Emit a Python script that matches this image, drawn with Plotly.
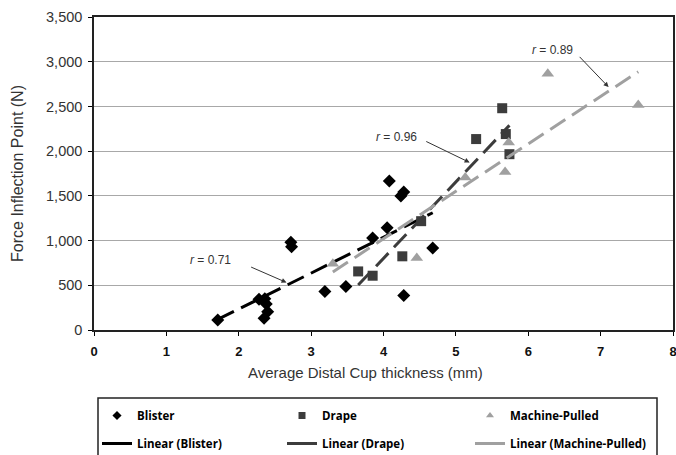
import numpy as np
import plotly.graph_objects as go

# ---- data ----
blister_x = [1.71, 2.28, 2.36, 2.38, 2.40, 2.35, 2.72, 2.73, 3.19, 3.48, 3.85, 4.05, 4.08, 4.24, 4.28, 4.28, 4.68]
blister_y = [112, 345, 350, 290, 205, 130, 980, 930, 431, 487, 1030, 1143, 1666, 1498, 1543, 386, 918]

drape_x = [3.65, 3.85, 4.26, 4.52, 5.28, 5.64, 5.69, 5.74]
drape_y = [655, 607, 824, 1217, 2135, 2480, 2191, 1966]

machine_x = [3.30, 4.46, 5.13, 5.68, 5.73, 6.27, 7.52]
machine_y = [740, 805, 1704, 1768, 2097, 2865, 2517]

x_ticks = [0, 1, 2, 3, 4, 5, 6, 7, 8]
y_ticks = [0, 500, 1000, 1500, 2000, 2500, 3000, 3500]

r_labels = ["0.71", "0.96", "0.89"]

x_title = "Average Distal Cup thickness (mm)"
y_title = "Force Inflection Point (N)"

FONT = "Liberation Sans, Arial, sans-serif"
LEGEND_FONT = "Open Sans, sans-serif"

series = [
    ("Blister", blister_x, blister_y, "diamond", 10, "#000000", "#000000"),
    ("Drape", drape_x, drape_y, "square", 10, "#3c3c3c", "#3c3c3c"),
    ("Machine-Pulled", machine_x, machine_y, "triangle-up", 11, "#a0a0a0", "#a0a0a0"),
]

# legend positions (left edge px)
leg_left = [97, 282, 470]
PLOT_L, PLOT_W, PLOT_B, PLOT_H = 94, 579, 330, 313
ROW1_TOP, ROW2_TOP = 401, 429

fig = go.Figure()

legends = {}
for i, (name, xs, ys, sym, size, mcol, lcol) in enumerate(series):
    fig.add_trace(go.Scatter(
        x=xs, y=ys, mode="markers", name=name, showlegend=False,
        marker=dict(symbol=sym, size=size, color=mcol),
    ))
    slope, intercept = np.polyfit(xs, ys, 1)
    lx = np.array([min(xs), max(xs)])
    fig.add_trace(go.Scatter(
        x=lx, y=slope * lx + intercept, mode="lines", name=f"Linear ({name})",
        showlegend=False,
        line=dict(color=lcol, width=3, dash="18px,8px"),
    ))

leg_common = dict(orientation="v", xref="paper", yref="paper", xanchor="left", yanchor="top",
                  bgcolor="rgba(0,0,0,0)", borderwidth=0,
                  font=dict(family=LEGEND_FONT, size=11.5, color="#000000", weight="bold"),
                  itemwidth=30)

k = 1
for i, (name, xs, ys, sym, size, mcol, lcol) in enumerate(series):
    lid = "legend" if k == 1 else f"legend{k}"
    fig.add_trace(go.Scatter(x=[None], y=[None], mode="markers", name=name, legend=lid,
                             marker=dict(symbol=sym, size=7, color=mcol)))
    legends[lid] = dict(x=(leg_left[i] - PLOT_L) / PLOT_W,
                        y=-(ROW1_TOP - PLOT_B) / PLOT_H, **leg_common)
    k += 1
for i, (name, xs, ys, sym, size, mcol, lcol) in enumerate(series):
    lid = f"legend{k}"
    fig.add_trace(go.Scatter(x=[None], y=[None], mode="lines", name=f"Linear ({name})", legend=lid,
                             line=dict(color=lcol, width=3)))
    legends[lid] = dict(x=(leg_left[i] - PLOT_L) / PLOT_W,
                        y=-(ROW2_TOP - PLOT_B) / PLOT_H, **leg_common)
    k += 1

# r annotations (text + arrow)
txt_pos = [(1.61, 787), (4.18, 2157), (6.33, 3127)]
arrow_tail = [(2.15, 711), (4.57, 2116), (6.69, 3071)]
arrow_head = [(2.66, 531), (5.19, 1873), (7.11, 2716)]
for lab, (tx, ty), (ax, ay), (hx, hy) in zip(r_labels, txt_pos, arrow_tail, arrow_head):
    fig.add_annotation(x=tx, y=ty, text=f"<i>r</i> = {lab}", showarrow=False,
                       font=dict(family=FONT, size=12, color="#333333"))
    fig.add_annotation(x=hx, y=hy, ax=ax, ay=ay, axref="x", ayref="y", text="",
                       showarrow=True, arrowhead=2, arrowsize=1, arrowwidth=1,
                       arrowcolor="#333333")

# x-axis title (slightly left of centre, as in the reference)
fig.add_annotation(xref="paper", yref="paper", x=(365 - PLOT_L) / PLOT_W, y=-(372 - PLOT_B) / PLOT_H,
                   xanchor="center", yanchor="middle", showarrow=False, text=x_title,
                   font=dict(family=FONT, size=15, color="#333333"))

# legend frame
fig.add_shape(type="rect", xref="paper", yref="paper",
              x0=(98 - PLOT_L) / PLOT_W, x1=(657 - PLOT_L) / PLOT_W,
              y0=-(470 - PLOT_B) / PLOT_H, y1=-(398 - PLOT_B) / PLOT_H,
              line=dict(color="#222222", width=1.5), fillcolor="rgba(0,0,0,0)")

fig.update_layout(
    width=676, height=455,
    margin=dict(l=94, r=3, t=17, b=125, autoexpand=False),
    plot_bgcolor="white", paper_bgcolor="white",
    font=dict(family=FONT, size=13, color="#333333"),
    showlegend=True,
    xaxis=dict(
        range=[0, 8], tickvals=x_ticks, ticks="outside", ticklen=4, tickcolor="#000",
        showline=True, linecolor="#222222", linewidth=1.5, mirror=True,
        showgrid=False, zeroline=False, ticklabeloverflow="allow", ticklabelstandoff=5,
        tickfont=dict(family=FONT, size=13, color="#111111", weight="bold"),
    ),
    yaxis=dict(
        range=[0, 3500], tickvals=y_ticks, tickformat=",", ticks="outside", ticklen=4, tickcolor="#000",
        showline=True, linecolor="#222222", linewidth=1.5, mirror=True,
        showgrid=True, gridcolor="#a8a8a8", gridwidth=1, zeroline=False,
        ticklabelstandoff=3,
        tickfont=dict(family=FONT, size=14.5, color="#333333"),
        title=dict(text=y_title, standoff=18,
                   font=dict(family=FONT, size=16, color="#333333")),
    ),
    **legends,
)

fig.write_html("out.html")
